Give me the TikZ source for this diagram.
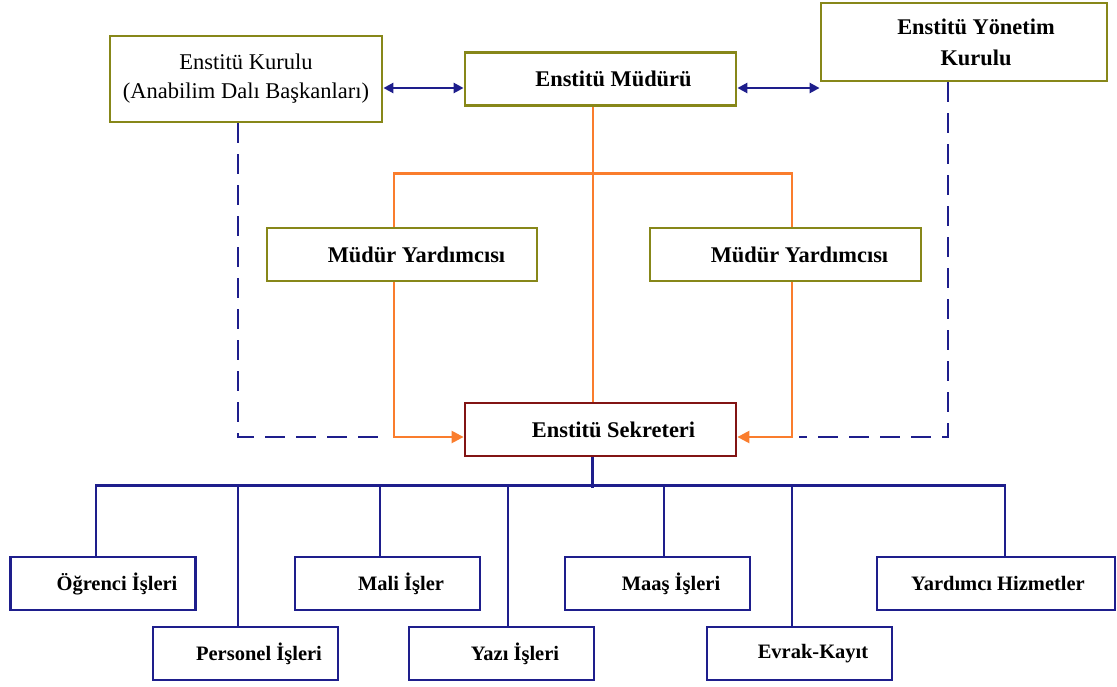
\documentclass[tikz,border=0pt]{standalone}
\usepackage{fontspec}
\setmainfont{Liberation Serif}
\usetikzlibrary{arrows.meta}
\definecolor{olivebd}{RGB}{135,135,25}
\definecolor{navyln}{RGB}{30,30,140}
\definecolor{orangeln}{RGB}{250,125,45}
\definecolor{redbd}{RGB}{130,20,20}
\tikzset{
  box/.style={draw, line width=2.8pt, inner sep=0pt, fill=white, text=black, align=center},
  topbox/.style={box, draw=olivebd, font=\fontsize{22.4}{30}\selectfont\bfseries},
  botbox/.style={box, draw=navyln, minimum width=185pt, minimum height=53pt, font=\fontsize{20.5}{24}\selectfont\bfseries},
  navline/.style={draw=navyln, line width=2.4pt, line join=miter},
  navdash/.style={draw=navyln, line width=2.6pt, dash pattern=on 20pt off 11pt},
  oline/.style={draw=orangeln, line width=2.4pt, line join=miter},
}
\begin{document}
\begin{tikzpicture}[x=1pt,y=-1pt]
\useasboundingbox (0,0) rectangle (1117,686);
% top row
\node[box, draw=olivebd, minimum width=272pt, minimum height=86pt,
      font=\fontsize{22.5}{29}\selectfont] (kurulu) at (246,79)
      {Enstitü Kurulu\\(Anabilim Dalı Başkanları)};
\node[topbox, minimum width=271pt, minimum height=53pt] (mudur) at (600.5,79)
      {\hspace*{26pt}Enstitü Müdürü};
\node[topbox, minimum width=286pt, minimum height=78pt, font=\fontsize{22.4}{31}\selectfont\bfseries] (yonetim) at (964,42)
      {\hspace*{24pt}Enstitü Yönetim\\\hspace*{24pt}Kurulu};
% middle
\node[topbox, minimum width=270pt, minimum height=53pt] (yard1) at (402,254.5)
      {\hspace*{29pt}Müdür Yardımcısı};
\node[topbox, minimum width=271pt, minimum height=53pt] (yard2) at (785.5,254.5)
      {\hspace*{28pt}Müdür Yardımcısı};
\node[topbox, draw=redbd, minimum width=271pt, minimum height=53pt] (sekr) at (600.5,429.5)
      {\hspace*{26pt}Enstitü Sekreteri};
% bottom
\node[botbox] (ogr) at (103,583.5) {\hspace*{28pt}Öğrenci İşleri};
\node[botbox] (pers) at (245.5,653.5) {\hspace*{27pt}Personel İşleri};
\node[botbox] (mali) at (387.5,583.5) {\hspace*{27pt}Mali İşler};
\node[botbox] (yazi) at (501.5,653.5) {\hspace*{27pt}Yazı İşleri};
\node[botbox] (maas) at (657.5,583.5) {\hspace*{27pt}Maaş İşleri};
\node[botbox] (evrak) at (799.5,653.5) {\hspace*{27pt}Evrak-Kayıt};
\node[botbox, minimum width=238pt] (yardh) at (996,583.5) {\hspace*{4pt}Yardımcı Hizmetler};

% top arrows
\path (mudur.west) ++(0,9) coordinate (mW);
\path (mudur.east) ++(0,9) coordinate (mE);
\draw[navline, line width=2.8pt, {Triangle[length=10pt,width=10pt]}-{Triangle[length=10pt,width=10pt]}] (kurulu.east |- mW) -- (mW);
\draw[navline, line width=2.8pt, {Triangle[length=10pt,width=10pt]}-{Triangle[length=10pt,width=10pt]}] (mE) -- (yonetim.west |- mE);

% orange structure
\coordinate (mS) at ([xshift=-7.5pt]mudur.south);
\draw[oline] (mS) -- (mS |- sekr.north);
\coordinate (y1N) at ([xshift=-8pt]yard1.north);
\coordinate (y2N) at ([xshift=6.5pt]yard2.north);
\coordinate (y1S) at ([xshift=-8pt]yard1.south);
\coordinate (y2S) at ([xshift=6.5pt]yard2.south);
\draw[oline] (y1N) -- ++(0,-53) -| (y2N);
\coordinate (sW) at ([yshift=-7.5pt]sekr.west);
\coordinate (sE) at ([yshift=-7.5pt]sekr.east);
\draw[oline, -{Triangle[length=12pt,width=12pt]}] (y1S) |- (sW);
\draw[oline, -{Triangle[length=12pt,width=12pt]}] (y2S) |- (sE);

% dashed lines
\path (y1S |- sW) coordinate (cL);
\path (y2S |- sE) coordinate (cR);
\coordinate (kS) at ([xshift=-8pt]kurulu.south);
\coordinate (yS) at ([xshift=-16pt]yonetim.south);
\draw[navdash] (kS) |- ([xshift=-7pt]cL);
\draw[navdash] (yS) |- ([xshift=7pt]cR);

% bottom tree
\coordinate (sD) at ([xshift=-8pt]sekr.south);
\draw[navline] (sD) -- ++(0,31);
\draw[navline] ([xshift=-7pt]ogr.north) -- ++(0,-70) -- ([xshift=9pt,yshift=70pt]yardh.north) -- ([xshift=9pt]yardh.north);
\draw[navline] ([xshift=-7.5pt]pers.north) -- ++(0,-140);
\draw[navline] ([xshift=-7.5pt]mali.north) -- ++(0,-70);
\draw[navline] ([xshift=6.5pt]yazi.north) -- ++(0,-140);
\draw[navline] ([xshift=6.5pt]maas.north) -- ++(0,-70);
\draw[navline] ([xshift=-7.5pt]evrak.north) -- ++(0,-140);
\end{tikzpicture}
\end{document}
